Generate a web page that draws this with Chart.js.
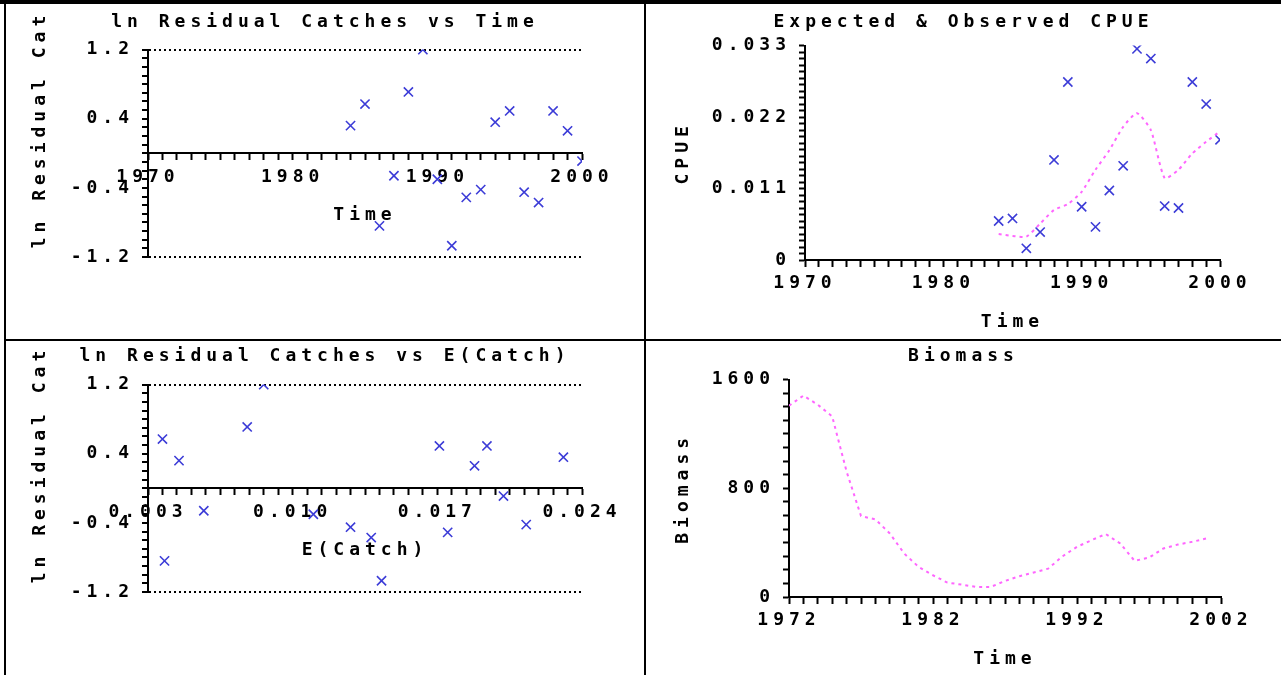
<!DOCTYPE html>
<html>
<head>
<meta charset="utf-8">
<script src="https://cdn.jsdelivr.net/npm/chart.js@4.4.1/dist/chart.umd.min.js"></script>
<style>
  html, body { margin: 0; padding: 0; background: #fff; }
  #page { position: relative; width: 1281px; height: 675px; overflow: hidden; background: #fff; }
  canvas { position: absolute; }
  .rule { position: absolute; background: #000; }
</style>
</head>
<body>
<div id="page">
  <canvas id="resTime" width="638" height="335" style="left:6px;top:5px"></canvas>
  <canvas id="cpue" width="635" height="335" style="left:646px;top:5px"></canvas>
  <canvas id="resCatch" width="638" height="335" style="left:6px;top:340px"></canvas>
  <canvas id="biomass" width="635" height="335" style="left:646px;top:340px"></canvas>
  <div class="rule" style="left:0;top:0;width:1281px;height:4px"></div>
  <div class="rule" style="left:4px;top:0;width:2px;height:675px"></div>
  <div class="rule" style="left:644px;top:0;width:2px;height:675px"></div>
  <div class="rule" style="left:4px;top:339px;width:1277px;height:2px"></div>
</div>
<script>
// values
const years = [1984, 1985, 1986, 1987, 1988, 1989, 1990, 1991, 1992, 1993, 1994, 1995, 1996, 1997, 1998, 1999, 2000];
const lnResiduals = [0.32, 0.57, -0.84, -0.26, 0.71, 1.2, -0.30, -1.07, -0.51, -0.42, 0.36, 0.49, -0.45, -0.57, 0.49, 0.26, -0.09];
const expectedCatch = [0.0045, 0.0037, 0.0038, 0.0057, 0.0078, 0.0086, 0.0110, 0.0143, 0.0175, 0.0213, 0.0231, 0.0171, 0.0128, 0.0138, 0.0194, 0.0188, 0.0202];
const observedCpue = [0.0060, 0.0064, 0.0018, 0.0043, 0.0154, 0.0274, 0.0082, 0.0051, 0.0107, 0.0145, 0.0325, 0.0310, 0.0083, 0.0080, 0.0274, 0.0240, 0.0185];
const expectedCpue = [0.0040, 0.0037, 0.0036, 0.0056, 0.0077, 0.0086, 0.0105, 0.0139, 0.0169, 0.0205, 0.0226, 0.0200, 0.0126, 0.0139, 0.0164, 0.0182, 0.0198];
const biomassYears = [1972, 1973, 1974, 1975, 1976, 1977, 1978, 1979, 1980, 1981, 1982, 1983, 1984, 1985, 1986,
                      1987, 1988, 1989, 1990, 1991, 1992, 1993, 1994, 1995, 1996, 1997, 1998, 1999, 2000, 2001];
const biomass = [1408, 1482, 1415, 1329, 923, 596, 571, 468, 320, 222, 160, 106, 91, 74, 74,
                 118, 153, 180, 209, 300, 369, 418, 463, 394, 266, 290, 357, 386, 406, 431];

const BLUE = 'rgb(60, 60, 215)';
const PINK = 'rgb(255, 102, 255)';
const FONT = { family: "'DejaVu Sans Mono', monospace", size: 18, weight: 'bold' };

Chart.defaults.font = FONT;
Chart.defaults.color = '#000';

// old DOS style font is very wide, so spread the letters
const spacing = {
  id: 'spacing',
  beforeUpdate(chart) { chart.ctx.letterSpacing = '5px'; },
  beforeDraw(chart) { chart.ctx.letterSpacing = '5px'; }
};

const pairs = (xs, ys) => xs.map((x, i) => ({ x: x, y: ys[i] }));

function tickGrid(onArea) {
  return { drawOnChartArea: onArea, tickLength: 6, tickWidth: 2, tickColor: '#000', color: '#000' };
}

function xAxis(min, max, step, every, fmt, title) {
  return {
    type: 'linear', min: min, max: max, position: { y: 0 },
    ticks: { stepSize: step, autoSkip: false, maxRotation: 0, minRotation: 0, padding: 7,
             callback: (v, i) => i % every === 0 ? fmt(v) : '' },
    grid: tickGrid(false),
    border: { color: '#000', width: 2 },
    title: { display: true, text: title, padding: { top: 10, bottom: 0 } }
  };
}

// empty box on the right so the title stays centred on the whole panel
function rightGap(width) {
  return {
    type: 'linear', position: 'right', display: true,
    ticks: { display: false }, grid: { display: false }, border: { display: false },
    afterFit: s => { s.width = width; }
  };
}

function residualAxis(width) {
  return {
    min: -1.2, max: 1.2,
    ticks: { stepSize: 0.1, autoSkip: false, padding: 8,
             callback: (v, i) => i % 8 === 0 ? v.toFixed(1) : '' },
    grid: Object.assign(tickGrid(true), { lineWidth: c => (c.index === 0 || c.index === 24) ? 2 : 0 }),
    border: { color: '#000', width: 2, dash: [2, 3] },
    title: { display: true, text: '   ln Residual Cat', padding: { top: 24, bottom: 0 } },
    afterFit: s => { s.width = width; }
  };
}

function baseOptions(title, titlePad, bottom, scales) {
  return {
    responsive: false,
    animation: false,
    events: [],
    layout: { padding: { left: 0, right: 0, top: 0, bottom: bottom } },
    plugins: {
      legend: { display: false },
      tooltip: { enabled: false },
      title: { display: true, text: title, font: FONT, color: '#000', padding: titlePad }
    },
    scales: scales
  };
}

const marks = data => ({
  data: data, showLine: false, pointStyle: 'crossRot', pointRadius: 6.5,
  pointBorderColor: BLUE, pointBorderWidth: 1.6, pointBackgroundColor: BLUE
});

const dotted = data => ({
  data: data, showLine: true, pointRadius: 0, borderColor: PINK, borderWidth: 2,
  borderDash: [3, 4], tension: 0.2
});

new Chart(document.getElementById('resTime'), {
  type: 'scatter',
  data: { datasets: [marks(pairs(years, lnResiduals))] },
  options: baseOptions('ln Residual Catches vs Time', { top: 7, bottom: 16 }, 83, {
    x: xAxis(1970, 2000, 1, 10, v => String(v), 'Time'),
    y: residualAxis(142),
    gap: rightGap(62)
  }),
  plugins: [spacing]
});

new Chart(document.getElementById('cpue'), {
  type: 'scatter',
  data: { datasets: [dotted(pairs(years, expectedCpue)), marks(pairs(years, observedCpue))] },
  options: baseOptions('Expected & Observed CPUE', { top: 7, bottom: 12 }, 80, {
    x: xAxis(1970, 2000, 1, 10, v => String(v), 'Time'),
    y: {
      min: 0, max: 0.033,
      ticks: { stepSize: 0.001, autoSkip: false, padding: 8,
               callback: (v, i) => i % 11 === 0 ? (v === 0 ? '0' : v.toFixed(3)) : '' },
      grid: tickGrid(false),
      border: { color: '#000', width: 2 },
      title: { display: true, text: 'CPUE', padding: { top: 27, bottom: 0 } },
      afterFit: s => { s.width = 159; }
    },
    gap: rightGap(61)
  }),
  plugins: [spacing]
});

new Chart(document.getElementById('resCatch'), {
  type: 'scatter',
  data: { datasets: [marks(pairs(expectedCatch, lnResiduals))] },
  options: baseOptions('ln Residual Catches vs E(Catch)', { top: 6, bottom: 17 }, 83, {
    x: xAxis(0.003, 0.024, 0.0007, 10, v => v.toFixed(3), 'E(Catch)'),
    y: residualAxis(142),
    gap: rightGap(62)
  }),
  plugins: [spacing]
});

const bioLine = dotted(pairs(biomassYears, biomass));
bioLine.tension = 0;
new Chart(document.getElementById('biomass'), {
  type: 'scatter',
  data: { datasets: [bioLine] },
  options: baseOptions('Biomass', { top: 6, bottom: 12 }, 78, {
    x: xAxis(1972, 2002, 1, 10, v => String(v), 'Time'),
    y: {
      min: 0, max: 1600,
      ticks: { stepSize: 100, autoSkip: false, padding: 8,
               callback: (v, i) => i % 8 === 0 ? String(v) : '' },
      grid: tickGrid(false),
      border: { color: '#000', width: 2 },
      title: { display: true, text: 'Biomass', padding: { top: 27, bottom: 0 } },
      afterFit: s => { s.width = 143; }
    },
    gap: rightGap(60)
  }),
  plugins: [spacing]
});
</script>
</body>
</html>
